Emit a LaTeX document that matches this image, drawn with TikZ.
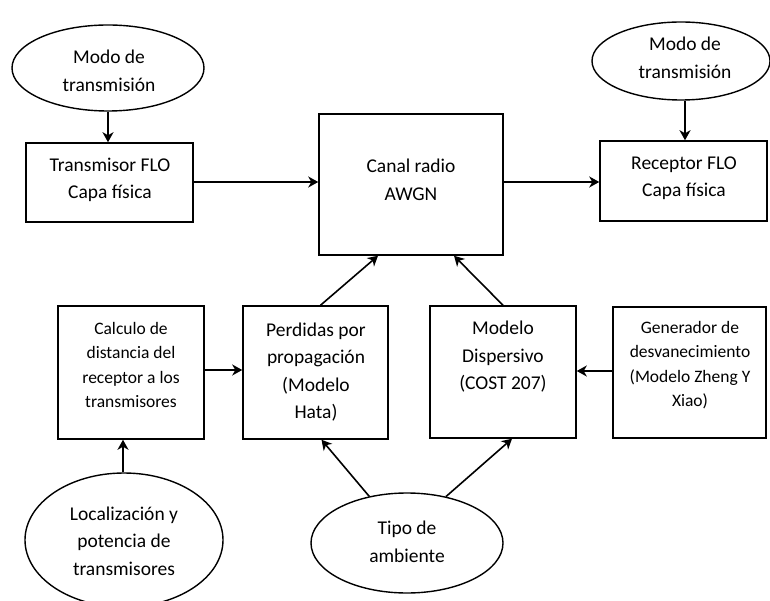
\documentclass[tikz,border=0pt]{standalone}
\usepackage{fontspec}
\setmainfont{Carlito}
\usetikzlibrary{arrows.meta,shapes.geometric,calc}

\tikzset{
  blk/.style={draw, line width=1.5pt, rectangle, inner sep=0pt},
  oval/.style={draw, line width=1.4pt, ellipse, inner sep=0pt},
  txt/.style={align=center, inner sep=0pt, text=black,
              font=\fontsize{19.5}{27.5}\selectfont},
  smalltxt/.style={align=center, inner sep=0pt, text=black,
              font=\fontsize{17.5}{24.5}\selectfont},
  flow/.style={line width=1.6pt, -{Stealth[length=10pt,width=11pt,inset=3pt]}}
}

\begin{document}
\begin{tikzpicture}[x=1pt,y=-1pt]
\useasboundingbox (0,0) rectangle (770,601);
\clip (0,0) rectangle (770,601);

% top row
\node[oval, minimum width=192pt, minimum height=86pt] (modoA) at (108,68) {};
\node[txt] (modoAT) at (109,71) {Modo de\\transmisión};

\node[blk, minimum width=167pt, minimum height=79pt] (tx) at (109.5,182.5) {};
\node[txt] (txT) at (110,180) {Transmisor FLO\\Capa física};

\node[blk, minimum width=184pt, minimum height=141pt] (canal) at (411,184.5) {};
\node[txt] (canalT) at (411,180) {Canal radio\\AWGN};

\node[blk, minimum width=167pt, minimum height=80pt] (rx) at (683.5,181) {};
\node[txt] (rxT) at (684,178) {Receptor FLO\\Capa física};

\node[oval, minimum width=178pt, minimum height=78pt] (modoB) at (681,61) {};
\node[txt] (modoBT) at (685,58) {Modo de\\transmisión};

% middle row
\node[blk, minimum width=146pt, minimum height=133pt] (calc) at (131,372.5) {};
\node[smalltxt] (calcT) at (131,365) {Calculo de\\distancia del\\receptor a los\\transmisores};

\node[blk, minimum width=145pt, minimum height=133pt] (perd) at (315.5,372.5) {};
\node[txt] (perdT) at (316,372) {Perdidas por\\propagación\\(Modelo\\Hata)};

\node[blk, minimum width=146pt, minimum height=132pt] (disp) at (503,372) {};
\node[txt] (dispT) at (503,357) {Modelo\\Dispersivo\\(COST 207)};

\node[blk, minimum width=153pt, minimum height=131pt] (gen) at (689.5,372.5) {};
\node[smalltxt] (genT) at (690,365) {Generador de\\desvanecimiento\\(Modelo Zheng Y\\Xiao)};

% bottom row
\node[oval, minimum width=198pt, minimum height=134pt] (loc) at (124,540) {};
\node[txt] (locT) at (124,541) {Localización y\\potencia de\\transmisores};

\node[oval, minimum width=192pt, minimum height=100pt] (tipo) at (407,543) {};
\node[txt] (tipoT) at (407,542) {Tipo de\\ambiente};

% connectors
\draw[flow] (modoA.south) -- (modoA.south |- tx.north);
\draw[flow] (tx.east |- 0,182) -- (canal.west |- 0,182);
\draw[flow] (canal.east |- 0,182) -- (rx.west |- 0,182);
\draw[flow] (modoB.south -| 685,0) -- (rx.north -| 685,0);
\draw[flow] (calc.east |- 0,370) -- (perd.west |- 0,370);
\draw[flow] (gen.west |- 0,371) -- (disp.east |- 0,371);
\draw[flow] (loc.north -| 123,0) -- (calc.south -| 123,0);
\draw[flow] ([xshift=5pt]perd.north) -- ([xshift=-33pt]canal.south);
\draw[flow] (disp.north) -- ([xshift=43pt]canal.south);
\draw[flow] (tipo.129) -- ([xshift=6pt]perd.south);
\draw[flow] (tipo.50) -- ([xshift=9pt]disp.south);
\end{tikzpicture}
\end{document}
